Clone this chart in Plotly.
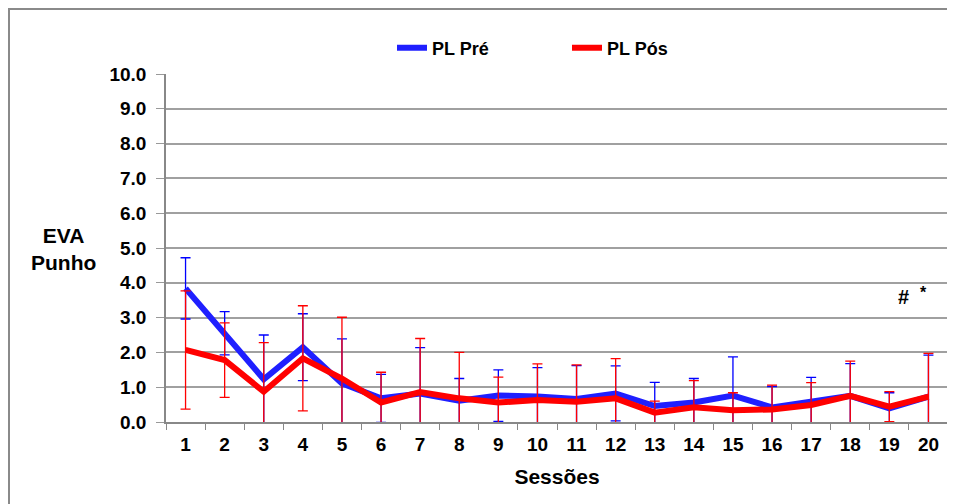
import plotly.graph_objects as go

sessions = [str(i) for i in range(1, 21)]
pre_mean = [3.84, 2.55, 1.23, 2.15, 1.11, 0.68, 0.82, 0.61, 0.76, 0.73,
            0.66, 0.82, 0.46, 0.56, 0.76, 0.42, 0.58, 0.75, 0.39, 0.73]
pre_sd = [0.88, 0.62, 1.27, 0.96, 1.28, 0.69, 1.32, 0.64, 0.74, 0.83,
          0.96, 0.79, 0.68, 0.69, 1.11, 0.60, 0.70, 0.93, 0.45, 1.19]
pos_mean = [2.07, 1.78, 0.87, 1.83, 1.25, 0.56, 0.86, 0.68, 0.56, 0.63,
            0.58, 0.68, 0.27, 0.42, 0.34, 0.36, 0.49, 0.75, 0.44, 0.73]
pos_sd = [1.70, 1.07, 1.41, 1.51, 1.76, 0.87, 1.54, 1.32, 0.73, 1.04,
          1.06, 1.14, 0.33, 0.77, 0.50, 0.70, 0.64, 1.00, 0.43, 1.24]
y_ticks = [0, 1, 2, 3, 4, 5, 6, 7, 8, 9, 10]

FONT = "Liberation Sans, Arial, sans-serif"
BOLD19 = dict(size=19, family=FONT, weight="bold", color="black")

# plot area in page pixels: x 166..948, y 74..422 (page has 8px body margin)
def px(X):
    return (X - 166) / 782

def py(Y):
    return (422 - Y) / 348

fig = go.Figure()
fig.add_trace(go.Scatter(
    x=sessions, y=pre_mean, name="PL Pré", mode="lines",
    line=dict(color="#1f1fff", width=6),
    error_y=dict(type="data", array=pre_sd, visible=True, color="#0000ff",
                 thickness=1.3, width=5),
))
fig.add_trace(go.Scatter(
    x=sessions, y=pos_mean, name="PL Pós", mode="lines",
    line=dict(color="#ff0000", width=6),
    error_y=dict(type="data", array=pos_sd, visible=True, color="#ff0000",
                 thickness=1.3, width=5),
))

fig.update_layout(
    width=955, height=504,
    margin=dict(l=158, r=15, t=66, b=90, autoexpand=False),
    paper_bgcolor="white", plot_bgcolor="white",
    font=dict(family=FONT, color="black"),
    showlegend=True,
    legend=dict(orientation="h", x=px(392), y=py(48),
                xanchor="left", yanchor="middle",
                font=dict(size=18, family=FONT, weight="bold"),
                entrywidth=130, entrywidthmode="pixels",
                bgcolor="rgba(0,0,0,0)", itemwidth=30),
    xaxis=dict(
        type="category", range=[-0.5, 19.5], automargin=False,
        tickson="boundaries", ticks="outside", ticklen=6,
        tickcolor="#888888", showline=True, linecolor="#888888", linewidth=1.5,
        showgrid=False, tickfont=BOLD19, ticklabelstandoff=4,
        title=dict(text="Sessões", font=dict(size=21, family=FONT, weight="bold"),
                   standoff=16),
    ),
    yaxis=dict(
        range=[0, 10], tickvals=y_ticks, tickformat=".1f", automargin=False,
        ticks="outside", ticklen=8, tickcolor="#999999",
        showline=True, linecolor="#888888", linewidth=1.5,
        showgrid=True, gridcolor="#a0a0a0", gridwidth=1.5,
        tickfont=BOLD19, zeroline=False, ticklabelstandoff=6,
    ),
    annotations=[
        dict(text="EVA<br>Punho", xref="paper", yref="paper",
             x=px(63), y=py(249), xanchor="center", yanchor="middle",
             showarrow=False,
             font=dict(size=21, family=FONT, weight="bold"), align="center"),
        dict(text="#", xref="paper", yref="paper",
             x=px(903), y=py(297), xanchor="center", yanchor="middle",
             showarrow=False,
             font=dict(size=20, family=FONT, weight="bold")),
        dict(text="*", xref="paper", yref="paper",
             x=px(923), y=py(292), xanchor="center", yanchor="middle",
             showarrow=False,
             font=dict(size=16, family=FONT, weight="bold")),
    ],
    shapes=[
        dict(type="rect", xref="paper", yref="paper",
             x0=px(9), x1=px(965), y0=py(515), y1=py(9),
             line=dict(color="#8a8a8a", width=2), layer="below"),
    ],
)

fig.write_html("out.html")
